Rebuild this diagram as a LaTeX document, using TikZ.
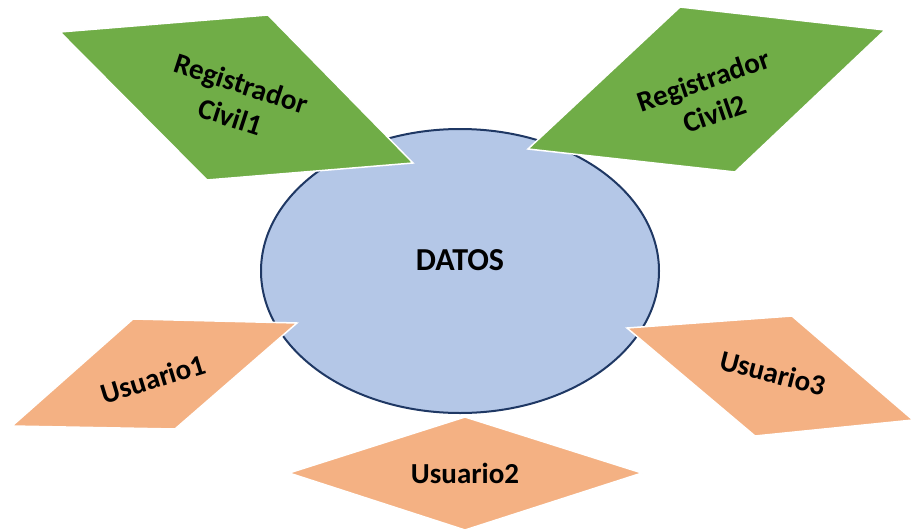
\documentclass[tikz,border=0pt]{standalone}
\usepackage{fontspec}
\setmainfont{Carlito}
\definecolor{grn}{HTML}{70AD47}
\definecolor{org}{HTML}{F4B183}
\definecolor{blu}{HTML}{B4C7E7}
\definecolor{nav}{HTML}{1F3864}
\begin{document}
\begin{tikzpicture}[x=1pt,y=-1pt,
  lbl/.style={font=\bfseries\fontsize{29}{35}\selectfont,align=center,inner sep=0pt,text=black},
  gshape/.style={fill=grn,draw=white,line width=1.5pt,line join=miter},
  oshape/.style={fill=org,draw=white,line width=1.5pt,line join=miter}]
\useasboundingbox (0,0) rectangle (911,528);
\fill[white] (0,0) rectangle (911,528);
\draw[fill=blu,draw=nav,line width=2pt] (460,271) ellipse [x radius=199pt,y radius=142pt];
\node[lbl,font=\bfseries\fontsize{32}{36}\selectfont] (datos) at (460,260) {DATOS};
\fill[gshape] (60,32) -- (268,15) -- (413,163) -- (207,180) -- cycle;
\node[lbl,rotate=-18] (rc1) at (236,100) {Registrador\\Civil1};
\fill[gshape] (680,7) -- (885,30) -- (735,172) -- (528,149) -- cycle;
\node[lbl,rotate=19] (rc2) at (709,97) {Registrador\\Civil2};
\fill[oshape] (133,319) -- (297,323) -- (175,429) -- (12,426) -- cycle;
\node[lbl,rotate=17] (u1) at (153,379) {Usuario1};
\fill[oshape] (627,328) -- (792,316) -- (913,420) -- (755,436) -- cycle;
\node[lbl,rotate=-14.5] (u3) at (773,373) {Usuario3};
\fill[oshape] (465,417) -- (642,473) -- (465,530) -- (289,473) -- cycle;
\node[lbl] (u2) at (465,473) {Usuario2};
\end{tikzpicture}
\end{document}
